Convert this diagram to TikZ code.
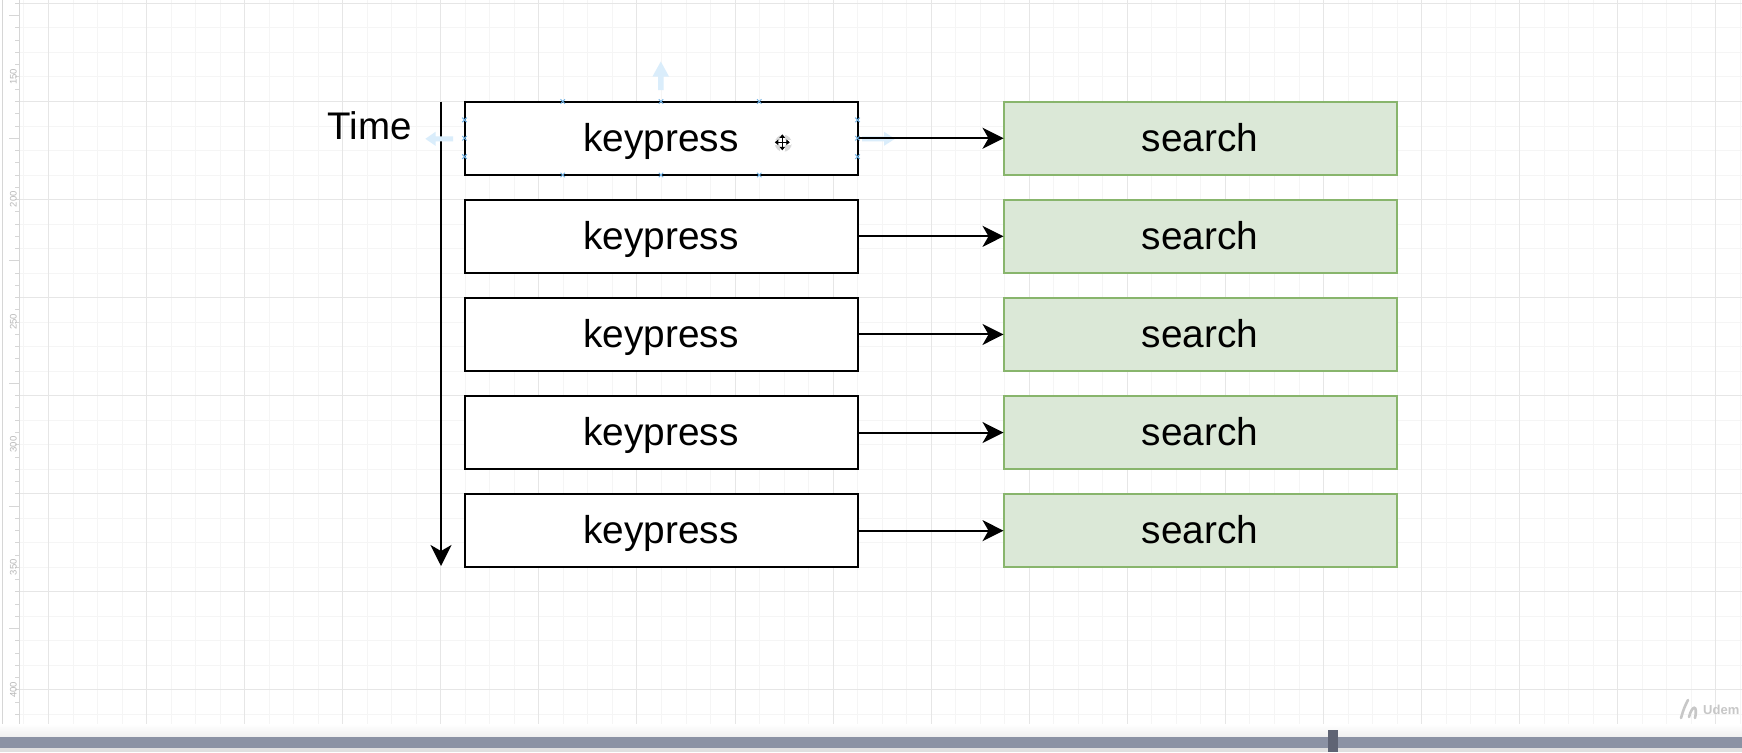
\documentclass[tikz,border=0pt]{standalone}
\usepackage{fontspec}
\setmainfont{Liberation Sans}
\usetikzlibrary{arrows.meta,calc}
\definecolor{gridminor}{HTML}{F5F5F5}
\definecolor{gridmajor}{HTML}{E6E6E6}
\definecolor{greenfill}{HTML}{DBE8D7}
\definecolor{greenline}{HTML}{88B56C}
\definecolor{hoverblue}{HTML}{DAEDFB}
\definecolor{handleblue}{HTML}{6FB1E4}
\definecolor{barcol}{HTML}{8B92A4}
\definecolor{markcol}{HTML}{5F6474}
\definecolor{rulertext}{HTML}{B8B8B8}
\definecolor{rulerline}{HTML}{D6D6D6}
\begin{document}
\begin{tikzpicture}[x=1pt,y=-1pt,
  keybox/.style={draw=black,line width=2pt,fill=white,minimum width=393pt,minimum height=73.5pt,
    inner sep=0pt,outer sep=0pt,anchor=north west,font=\fontsize{38.8}{44}\selectfont,
    text height=29pt,text depth=3pt},
  searchbox/.style={keybox,draw=greenline,fill=greenfill},
  flow/.style={draw=black,line width=2pt,-{Stealth[length=21pt,width=21pt,inset=6pt]}},
  minorgrid/.style={draw=gridminor,line width=1pt},
  majorgrid/.style={draw=gridmajor,line width=1pt},
  ticks/.style={draw=rulerline,line width=1pt},
  rulerlabel/.style={text=rulertext,font=\fontsize{9.5}{11}\selectfont,rotate=90,inner sep=0pt},
  handlemark/.style={draw=handleblue,line width=0.9pt},
  hover/.style={fill=hoverblue,draw=none},
  timelabel/.style={font=\fontsize{38.5}{44}\selectfont,inner sep=0pt,anchor=base west}
]
\useasboundingbox (0,0) rectangle (1742,752);
\fill[white] (0,0) rectangle (1742,752);
% grid
\foreach \k in {-1,...,69}{
  \draw[minorgrid] ({48.5+24.52*\k},0) -- ({48.5+24.52*\k},736);
}
\foreach \j in {0,...,29}{
  \draw[minorgrid] (19.5,{3.4+24.52*\j}) -- (1742,{3.4+24.52*\j});
}
\foreach \k in {0,...,17}{
  \draw[majorgrid] ({48.5+98.08*\k},0) -- ({48.5+98.08*\k},736);
}
\foreach \j in {0,...,7}{
  \draw[majorgrid] (19.5,{3.4+98.08*\j}) -- (1742,{3.4+98.08*\j});
}
% ruler
\draw[ticks] (2.5,0) -- (2.5,736);
\draw[ticks] (19.5,0) -- (19.5,736);
\foreach \j in {0,...,59}{
  \draw[ticks] (15,{3.4+12.26*\j}) -- (19.5,{3.4+12.26*\j});
}
\foreach \j in {0,...,5}{
  \draw[ticks] (9,{15.7+122.6*\j}) -- (19.5,{15.7+122.6*\j});
}
\node[rulerlabel] (r150) at (13.3,76.7) {150};
\node[rulerlabel] (r200) at (13.3,199.3) {200};
\node[rulerlabel] (r250) at (13.3,321.9) {250};
\node[rulerlabel] (r300) at (13.3,444.5) {300};
\node[rulerlabel] (r350) at (13.3,567.1) {350};
\node[rulerlabel] (r400) at (13.3,689.7) {400};
% bottom bar
\shade[top color=white,bottom color=black!6] (0,724) rectangle (1742,736.5);
\fill[barcol] (0,736.5) rectangle (1742,748);
\fill[black!12] (0,748) rectangle (1742,752);
\fill[markcol] (1328,730) rectangle (1338,752);
% watermark
\draw[black!22,line width=2.6pt,line cap=round] (1681,718) .. controls (1684,708) .. (1688,700);
\draw[black!22,line width=2.6pt,line cap=round] (1689,717) .. controls (1692,705) and (1698,704) .. (1695,718);
\node[text=black!22,font=\bfseries\fontsize{13}{15}\selectfont,anchor=west,inner sep=0pt] (wm) at (1703,710) {Udem};
% time axis
\coordinate (ta) at (441,101.5);
\coordinate (tb) at (441,566);
\draw[flow] (ta) -- (tb);
\node[timelabel] (timelbl) at (327.5,139.3) {Time};
% hover arrows around first box
\fill[hover] (658,90) -- (658,76.5) -- (652.5,76.5) -- (660.8,61.5) -- (669,76.5) -- (663.6,76.5) -- (663.6,90) -- cycle;
\fill[hover] (453,136.3) -- (435.5,136.3) -- (435.5,131.8) -- (425.4,138.8) -- (435.5,145.8) -- (435.5,141.3) -- (453,141.3) -- cycle;
\fill[hover] (862,136.3) -- (884,136.3) -- (884,131.8) -- (895,138.8) -- (884,145.8) -- (884,141.3) -- (862,141.3) -- cycle;
% boxes and arrows
\foreach \i in {1,...,5}{
  \pgfmathsetmacro\ytop{101.5+98.1*(\i-1)}
  \node[keybox] (k\i) at (464.5,\ytop) {keypress};
  \node[searchbox] (s\i) at (1003.5,\ytop) {search};
  \draw[flow] (k\i.east) -- (s\i.west);
}
% selection handles on first box
\foreach \f in {0.25,0.5,0.75}{
  \draw[handlemark] ($(k1.north west)!\f!(k1.north east)$) +(-2.2,-2.2) -- +(2.2,2.2) +(-2.2,2.2) -- +(2.2,-2.2);
  \draw[handlemark] ($(k1.south west)!\f!(k1.south east)$) +(-2.2,-2.2) -- +(2.2,2.2) +(-2.2,2.2) -- +(2.2,-2.2);
  \draw[handlemark] ($(k1.north west)!\f!(k1.south west)$) +(-2.2,-2.2) -- +(2.2,2.2) +(-2.2,2.2) -- +(2.2,-2.2);
  \draw[handlemark] ($(k1.north east)!\f!(k1.south east)$) +(-2.2,-2.2) -- +(2.2,2.2) +(-2.2,2.2) -- +(2.2,-2.2);
}
% move cursor
\coordinate (cur) at (782.3,142.3);
\fill[black!15] ($(cur)+(1,1)$) circle (8.5);
\draw[white,line width=4.5pt,line cap=round] ($(cur)+(-8,0)$) -- ($(cur)+(8,0)$) ($(cur)+(0,-8.5)$) -- ($(cur)+(0,8.5)$);
\draw[black,line width=1.5pt,{Triangle[length=3.5pt,width=5.5pt]}-{Triangle[length=3.5pt,width=5.5pt]}] ($(cur)+(-7.5,0)$) -- ($(cur)+(7.5,0)$);
\draw[black,line width=1.5pt,{Triangle[length=3.5pt,width=5.5pt]}-{Triangle[length=3.5pt,width=5.5pt]}] ($(cur)+(0,-8)$) -- ($(cur)+(0,8)$);
\end{tikzpicture}
\end{document}
